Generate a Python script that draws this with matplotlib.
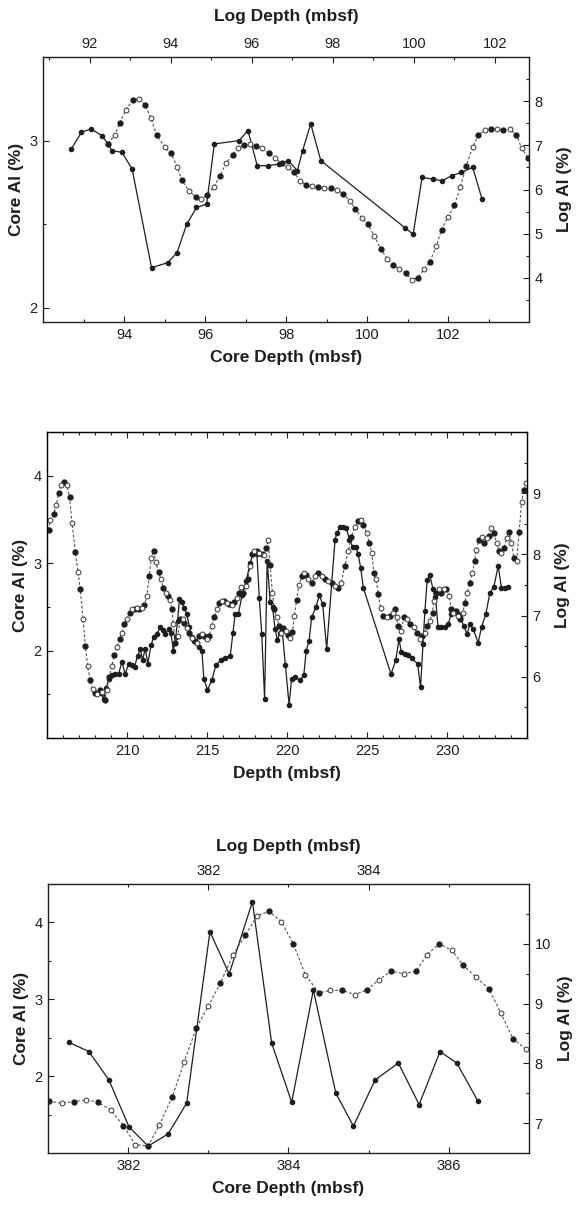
import matplotlib
matplotlib.use("Agg")
import matplotlib.pyplot as plt
from matplotlib.ticker import FixedLocator, MultipleLocator

plt.rcParams['font.family'] = ['Liberation Sans', 'DejaVu Sans']

# ---- panel 1 (upper) ----
core1_depth = [92.70, 92.95, 93.19, 93.45, 93.61, 93.70, 93.95, 94.20, 94.68, 95.08,
               95.31, 95.55, 95.79, 96.04, 96.23, 96.84, 97.06, 97.29, 97.56, 97.83,
               98.06, 98.28, 98.41, 98.61, 98.86, 100.93, 101.14, 101.36, 101.62, 101.86,
               102.09, 102.33, 102.61, 102.84]
core1_al = [2.95, 3.05, 3.07, 3.03, 2.98, 2.94, 2.93, 2.83, 2.24, 2.27,
            2.33, 2.50, 2.60, 2.62, 2.98, 3.00, 3.06, 2.85, 2.85, 2.86,
            2.88, 2.82, 2.94, 3.10, 2.88, 2.48, 2.44, 2.78, 2.77, 2.76,
            2.79, 2.81, 2.84, 2.65]
log1_depth = [92.45, 92.62, 92.73, 92.89, 93.05, 93.21, 93.36, 93.50, 93.65, 93.84,
              94.00, 94.15, 94.27, 94.44, 94.61, 94.75, 94.88, 95.06, 95.21, 95.36,
              95.52, 95.66, 95.80, 95.95, 96.09, 96.25, 96.41, 96.56, 96.73, 96.88,
              97.03, 97.18, 97.34, 97.48, 97.64, 97.79, 97.95, 98.09, 98.25, 98.41,
              98.55, 98.71, 98.86, 99.02, 99.18, 99.34, 99.48, 99.64, 99.80, 99.94,
              100.09, 100.25, 100.39, 100.55, 100.68, 100.84, 101.00, 101.14, 101.29, 101.45,
              101.59, 101.75, 101.91, 102.06, 102.21, 102.36, 102.53, 102.66, 102.82]
log1_al = [7.04, 7.24, 7.50, 7.81, 8.02, 8.06, 7.91, 7.63, 7.23, 6.96,
           6.82, 6.52, 6.21, 5.97, 5.84, 5.78, 5.88, 6.06, 6.31, 6.59,
           6.79, 6.93, 7.01, 7.02, 6.98, 6.94, 6.82, 6.72, 6.59, 6.50,
           6.40, 6.20, 6.10, 6.07, 6.06, 6.03, 6.03, 6.00, 5.90, 5.75,
           5.56, 5.36, 5.21, 4.95, 4.65, 4.43, 4.30, 4.20, 4.10, 3.96,
           4.00, 4.19, 4.36, 4.72, 5.09, 5.38, 5.64, 6.05, 6.53, 6.96,
           7.23, 7.35, 7.37, 7.36, 7.35, 7.37, 7.24, 6.93, 6.72]

# ---- panel 2 (middle) ----
core2_depth = [208.36, 208.54, 208.70, 208.87, 209.06, 209.27, 209.47, 209.68, 209.89, 210.10,
               210.30, 210.47, 210.66, 210.83, 210.97, 211.14, 211.30, 211.50, 211.66, 211.87,
               212.07, 212.24, 212.39, 212.60, 212.74, 212.90, 213.05, 213.16, 213.28, 213.43,
               213.57, 213.74, 213.90, 214.05, 214.20, 214.36, 214.53, 214.68, 214.80, 215.03,
               215.30, 215.55, 215.85, 216.15, 216.45, 216.62, 216.76, 216.96, 217.20, 217.45,
               217.70, 217.86, 218.00, 218.12, 218.27, 218.42, 218.60, 218.76, 218.95, 219.10,
               219.25, 219.40, 219.55, 219.70, 219.90, 220.13, 220.29, 220.52, 220.82, 221.05,
               221.20, 221.38, 221.54, 221.81, 222.02, 222.23, 222.48, 223.00, 223.10, 223.30,
               223.50, 223.70, 223.90, 224.10, 224.30, 224.45, 224.60, 224.77, 226.50, 226.80,
               227.00, 227.15, 227.36, 227.57, 227.80, 228.16, 228.35, 228.50, 228.62, 228.76,
               228.93, 229.13, 229.28, 229.44, 229.65, 229.86, 230.07, 230.27, 230.48, 230.70,
               230.84, 231.05, 231.26, 231.42, 231.63, 231.95, 232.16, 232.43, 232.68, 232.93,
               233.20, 233.40, 233.60, 233.80]
core2_al = [1.51, 1.45, 1.57, 1.68, 1.72, 1.73, 1.73, 1.87, 1.73, 1.85,
            1.83, 1.81, 1.94, 2.02, 1.89, 2.02, 1.85, 2.06, 2.15, 2.19,
            2.27, 2.23, 2.19, 2.25, 2.20, 2.00, 2.16, 2.34, 2.59, 2.55,
            2.49, 2.42, 2.27, 2.15, 2.11, 2.09, 2.04, 2.00, 1.68, 1.55,
            1.66, 1.83, 1.89, 1.92, 1.94, 2.20, 2.42, 2.42, 2.64, 2.80,
            3.00, 3.10, 3.12, 3.10, 2.60, 2.19, 1.45, 3.03, 2.55, 2.50,
            2.25, 2.12, 2.20, 2.23, 1.83, 1.38, 1.68, 1.70, 1.66, 1.72,
            2.00, 2.11, 2.38, 2.50, 2.63, 2.53, 2.02, 3.26, 3.34, 3.41,
            3.41, 3.40, 3.27, 3.19, 3.19, 3.10, 2.95, 2.72, 1.73, 1.89,
            2.13, 1.98, 1.96, 1.95, 1.91, 1.85, 1.58, 2.08, 2.45, 2.81,
            2.86, 2.70, 2.61, 2.27, 2.27, 2.27, 2.30, 2.42, 2.45, 2.42,
            2.38, 2.28, 2.19, 2.30, 2.25, 2.09, 2.27, 2.42, 2.66, 2.73,
            2.97, 2.72, 2.72, 2.73]
log2_depth = [205.10, 205.21, 205.42, 205.58, 205.73, 205.87, 206.08, 206.25, 206.41, 206.56,
              206.77, 206.94, 207.08, 207.25, 207.39, 207.54, 207.70, 207.85, 208.00, 208.15,
              208.30, 208.45, 208.60, 208.75, 208.90, 209.06, 209.20, 209.37, 209.54, 209.68,
              209.83, 210.00, 210.16, 210.31, 210.47, 210.62, 210.78, 210.93, 211.08, 211.24,
              211.39, 211.51, 211.66, 211.80, 211.97, 212.12, 212.28, 212.43, 212.55, 212.70,
              212.80, 212.90, 213.03, 213.18, 213.32, 213.47, 213.59, 213.74, 213.88, 214.05,
              214.22, 214.36, 214.53, 214.68, 214.82, 214.99, 215.13, 215.30, 215.45, 215.61,
              215.78, 215.92, 216.09, 216.24, 216.40, 216.55, 216.69, 216.86, 217.00, 217.15,
              217.28, 217.42, 217.55, 217.70, 217.82, 217.94, 218.11, 218.28, 218.42, 218.57,
              218.69, 218.82, 218.94, 219.09, 219.21, 219.36, 219.50, 219.63, 219.77, 219.92,
              220.04, 220.19, 220.34, 220.46, 220.60, 220.75, 220.92, 221.06, 221.20, 221.33,
              221.54, 221.75, 221.96, 222.17, 222.38, 222.59, 222.80, 223.00, 223.20, 223.40,
              223.60, 223.83, 224.03, 224.24, 224.45, 224.60, 224.77, 224.98, 225.15, 225.30,
              225.43, 225.56, 225.71, 225.85, 226.02, 226.22, 226.43, 226.60, 226.74, 226.85,
              226.95, 227.12, 227.33, 227.50, 227.70, 227.93, 228.13, 228.30, 228.46, 228.60,
              228.75, 228.92, 229.10, 229.17, 229.34, 229.50, 229.65, 229.80, 229.96, 230.13,
              230.27, 230.38, 230.55, 230.70, 230.84, 231.00, 231.10, 231.26, 231.42, 231.59,
              231.73, 231.84, 232.00, 232.16, 232.32, 232.47, 232.63, 232.78, 232.93, 233.10,
              233.26, 233.40, 233.56, 233.72, 233.89, 234.03, 234.18, 234.35, 234.51, 234.66,
              234.80, 234.93]
log2_al = [8.40, 8.56, 8.66, 8.81, 9.01, 9.13, 9.18, 9.13, 8.93, 8.52,
           8.04, 7.71, 7.43, 6.95, 6.51, 6.18, 5.95, 5.80, 5.74, 5.72,
           5.78, 5.75, 5.62, 5.78, 6.00, 6.18, 6.35, 6.48, 6.61, 6.72,
           6.86, 6.95, 7.04, 7.10, 7.10, 7.12, 7.10, 7.13, 7.17, 7.32,
           7.64, 7.94, 8.06, 7.88, 7.71, 7.60, 7.45, 7.37, 7.32, 7.25,
           7.10, 6.86, 6.56, 6.67, 6.94, 6.95, 6.88, 6.80, 6.72, 6.64,
           6.59, 6.56, 6.67, 6.70, 6.67, 6.62, 6.67, 6.83, 6.98, 7.10,
           7.21, 7.24, 7.24, 7.21, 7.19, 7.17, 7.22, 7.29, 7.37, 7.46,
           7.37, 7.48, 7.59, 7.81, 8.00, 8.05, 8.05, 8.03, 8.01, 7.99,
           8.10, 8.23, 7.83, 7.37, 7.10, 6.97, 6.83, 6.72, 6.80, 6.75,
           6.68, 6.64, 6.74, 6.99, 7.26, 7.50, 7.64, 7.70, 7.66, 7.59,
           7.54, 7.64, 7.70, 7.64, 7.59, 7.56, 7.54, 7.48, 7.45, 7.54,
           7.81, 8.05, 8.29, 8.45, 8.54, 8.56, 8.48, 8.35, 8.18, 8.02,
           7.70, 7.59, 7.35, 7.13, 6.99, 6.97, 6.99, 7.05, 7.10, 6.97,
           6.83, 6.75, 6.98, 6.94, 6.86, 6.81, 6.72, 6.62, 6.67, 6.72,
           6.83, 6.91, 7.05, 7.24, 7.37, 7.43, 7.37, 7.43, 7.44, 7.32,
           7.10, 7.05, 7.08, 6.99, 6.94, 7.05, 7.21, 7.37, 7.54, 7.70,
           7.89, 8.08, 8.24, 8.28, 8.18, 8.26, 8.30, 8.43, 8.35, 8.18,
           8.05, 8.02, 8.10, 8.26, 8.37, 8.19, 7.94, 7.89, 8.37, 8.86,
           9.05, 9.16]

# ---- panel 3 (lower) ----
core3_depth = [381.26, 381.51, 381.76, 382.01, 382.25, 382.50, 382.73, 383.02, 383.26, 383.55,
               383.79, 384.04, 384.31, 384.59, 384.81, 385.08, 385.37, 385.63, 385.89, 386.10,
               386.36]
core3_al = [2.44, 2.32, 1.95, 1.34, 1.09, 1.25, 1.65, 3.88, 3.33, 4.27,
            2.43, 1.66, 3.12, 1.78, 1.35, 1.95, 2.17, 1.63, 2.32, 2.17,
            1.68]
log3_depth = [380.01, 380.17, 380.32, 380.48, 380.62, 380.78, 380.94, 381.09, 381.25, 381.39,
              381.55, 381.70, 381.85, 382.00, 382.15, 382.31, 382.46, 382.61, 382.76, 382.91,
              383.06, 383.21, 383.38, 383.52, 383.67, 383.83, 383.98, 384.13, 384.28, 384.44,
              384.59, 384.73, 384.88, 385.04, 385.18, 385.34, 385.50, 385.65, 385.80, 385.96]
log3_al = [7.37, 7.33, 7.36, 7.39, 7.35, 7.22, 6.96, 6.64, 6.62, 6.97,
           7.44, 8.03, 8.59, 8.96, 9.34, 9.82, 10.14, 10.47, 10.54, 10.37,
           10.00, 9.48, 9.18, 9.22, 9.22, 9.15, 9.23, 9.40, 9.54, 9.50,
           9.54, 9.82, 10.00, 9.89, 9.64, 9.44, 9.25, 8.84, 8.41, 8.24]

W, H = 581, 1207
INK = '#1e1e1e'
LABEL = dict(fontsize=12.5, fontweight='bold', color=INK)


def rect(l, t, r, b):
    return [l / W, 1 - b / H, (r - l) / W, (b - t) / H]


def ticks(ax):
    ax.tick_params(which='both', direction='in', width=0.8, colors=INK,
                   labelsize=10.5, pad=4)
    ax.tick_params(which='major', length=4)
    ax.tick_params(which='minor', length=2.5)


def frame(ax):
    for s in ax.spines.values():
        s.set_linewidth(1.0)
        s.set_color(INK)


def core_line(ax, x, y):
    ax.plot(x, y, color=INK, lw=0.9, marker='o', ms=3, mfc=INK, mec=INK)


def log_line(ax, x, y):
    ax.plot(x, y, color='#555555', lw=0.8, ls=(0, (2.5, 1.8)))
    ax.plot(x[::2], y[::2], 'o', ms=3.5, mfc=INK, mec=INK, lw=0)
    ax.plot(x[1::2], y[1::2], 'o', ms=3.5, mfc='white', mec='#333333', mew=0.7, lw=0)


def overlay(ax):
    # second axes on the same box: top x (log depth), right y (log Al)
    ax2 = ax.figure.add_axes(ax.get_position(), frameon=False)
    ax2.xaxis.tick_top()
    ax2.xaxis.set_label_position('top')
    ax2.yaxis.tick_right()
    ax2.yaxis.set_label_position('right')
    return ax2


fig = plt.figure(figsize=(W / 100, H / 100), dpi=100)

# panel 1
ax = fig.add_axes(rect(43, 57, 529, 322))
frame(ax)
core_line(ax, core1_depth, core1_al)
ax.set_xlim(92, 104)
ax.set_ylim(1.915, 3.5)
ax.xaxis.set_major_locator(FixedLocator([94, 96, 98, 100, 102]))
ax.xaxis.set_minor_locator(FixedLocator([93, 95, 97, 99, 101, 103]))
ax.yaxis.set_major_locator(FixedLocator([2, 3]))
ax.yaxis.set_minor_locator(FixedLocator([2.5]))
ticks(ax)
ax.set_xlabel('Core Depth (mbsf)', labelpad=6, **LABEL)
ax.set_ylabel('Core Al (%)', labelpad=4, **LABEL)

ax2 = overlay(ax)
log_line(ax2, log1_depth, log1_al)
ax2.set_xlim(90.84, 102.84)
ax2.set_ylim(3.0, 9.0)
ax2.xaxis.set_major_locator(FixedLocator([92, 94, 96, 98, 100, 102]))
ax2.xaxis.set_minor_locator(FixedLocator([91, 93, 95, 97, 99, 101]))
ax2.yaxis.set_major_locator(FixedLocator([4, 5, 6, 7, 8]))
ax2.yaxis.set_minor_locator(FixedLocator([3.5, 4.5, 5.5, 6.5, 7.5, 8.5]))
ticks(ax2)
ax2.set_xlabel('Log Depth (mbsf)', labelpad=12, **LABEL)
ax2.set_ylabel('Log Al (%)', labelpad=10, **LABEL)

# panel 2
ax = fig.add_axes(rect(47, 432, 527, 738))
frame(ax)
core_line(ax, core2_depth, core2_al)
ax.set_xlim(205, 235)
ax.set_ylim(1.0, 4.5)
ax.xaxis.set_major_locator(FixedLocator([210, 215, 220, 225, 230]))
ax.xaxis.set_minor_locator(MultipleLocator(1))
ax.yaxis.set_major_locator(FixedLocator([2, 3, 4]))
ax.yaxis.set_minor_locator(FixedLocator([1.5, 2.5, 3.5]))
ticks(ax)
ax.tick_params(which='both', top=True)
ax.set_xlabel('Depth (mbsf)', labelpad=6, **LABEL)
ax.set_ylabel('Core Al (%)', labelpad=4, **LABEL)

ax2 = ax.twinx()
log_line(ax2, log2_depth, log2_al)
ax2.set_ylim(5.0, 10.0)
ax2.yaxis.set_major_locator(FixedLocator([6, 7, 8, 9]))
ax2.yaxis.set_minor_locator(FixedLocator([5.5, 6.5, 7.5, 8.5, 9.5]))
ticks(ax2)
ax2.set_ylabel('Log Al (%)', labelpad=10, **LABEL)

# panel 3
ax = fig.add_axes(rect(48, 884, 529, 1153))
frame(ax)
core_line(ax, core3_depth, core3_al)
ax.set_xlim(381, 387)
ax.set_ylim(1.0, 4.5)
ax.xaxis.set_major_locator(FixedLocator([382, 384, 386]))
ax.xaxis.set_minor_locator(FixedLocator([383, 385]))
ax.yaxis.set_major_locator(FixedLocator([2, 3, 4]))
ax.yaxis.set_minor_locator(FixedLocator([1.5, 2.5, 3.5]))
ticks(ax)
ax.set_xlabel('Core Depth (mbsf)', labelpad=6, **LABEL)
ax.set_ylabel('Core Al (%)', labelpad=4, **LABEL)

ax2 = overlay(ax)
log_line(ax2, log3_depth, log3_al)
ax2.set_xlim(380, 386)
ax2.set_ylim(6.5, 11.0)
ax2.xaxis.set_major_locator(FixedLocator([382, 384]))
ax2.xaxis.set_minor_locator(FixedLocator([381, 383, 385]))
ax2.yaxis.set_major_locator(FixedLocator([7, 8, 9, 10]))
ax2.yaxis.set_minor_locator(FixedLocator([7.5, 8.5, 9.5, 10.5]))
ticks(ax2)
ax2.set_xlabel('Log Depth (mbsf)', labelpad=10, **LABEL)
ax2.set_ylabel('Log Al (%)', labelpad=5, **LABEL)

fig.savefig('out.png', dpi=100, facecolor='white')
